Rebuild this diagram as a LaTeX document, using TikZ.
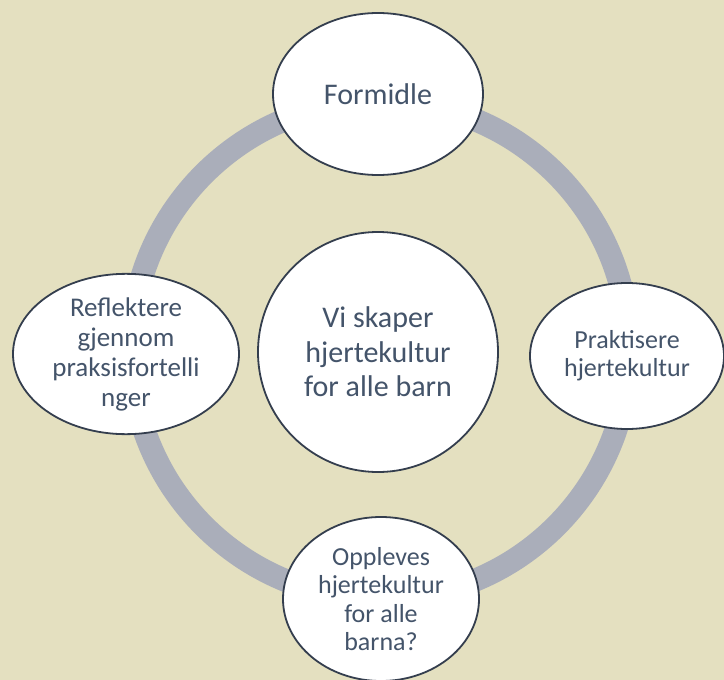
\documentclass[tikz,border=0pt]{standalone}
\usepackage{fontspec}
\setmainfont{Carlito}
\usetikzlibrary{shapes.geometric}
\definecolor{bgbeige}{RGB}{228,224,192}
\definecolor{ringgray}{RGB}{170,174,186}
\definecolor{edgedark}{RGB}{52,62,78}
\definecolor{textslate}{RGB}{68,84,106}

\begin{document}
\begin{tikzpicture}[
    x=1pt, y=-1pt,
    bubble/.style={ellipse, draw=edgedark, line width=1.8pt, fill=white,
                   inner sep=0pt, align=center, text=textslate},
    core/.style={circle, draw=edgedark, line width=1.8pt, fill=white,
                 inner sep=0pt, minimum size=240pt, align=center, text=textslate,
                 font=\fontsize{30}{34.5}\selectfont}
]
    % Background
    \fill[bgbeige] (0,0) rectangle (724,680);
    \useasboundingbox (0,0) rectangle (724,680);

    % Ring
    \coordinate (mid) at (380,350);
    \draw[ringgray, line width=23pt] (mid) circle[radius=249];

    % Centre
    \node[core] (kultur) at (378,352) {Vi skaper\\hjertekultur\\for alle barn};

    % Cycle steps
    \node[bubble, minimum width=210pt, minimum height=162pt,
          font=\fontsize{30}{34}\selectfont] (formidle) at (378,94) {Formidle};
    \node[bubble, minimum width=194pt, minimum height=146pt,
          font=\fontsize{26}{28}\selectfont] (praktisere) at (627,356)
          {Praktisere\\hjertekultur};
    \node[bubble, minimum width=196pt, minimum height=164pt,
          font=\fontsize{26}{28.5}\selectfont] (oppleves) at (381,599)
          {Oppleves\\hjertekultur\\for alle\\barna?};
    \node[bubble, minimum width=226pt, minimum height=160pt,
          font=\fontsize{27}{30}\selectfont] (reflektere) at (126,354)
          {Reflektere\\gjennom\\praksisfortelli\\nger};
\end{tikzpicture}
\end{document}
